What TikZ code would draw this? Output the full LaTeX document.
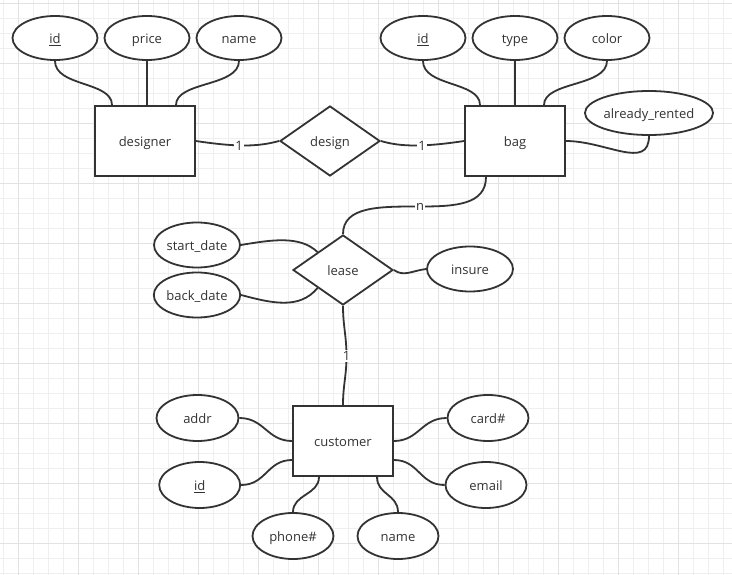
\documentclass[tikz,border=0pt]{standalone}
\usepackage{fontspec}
\setmainfont{Open Sans}
\usetikzlibrary{shapes.geometric}
\definecolor{ink}{HTML}{333333}
\definecolor{gridminor}{HTML}{EFEFEF}
\definecolor{gridmajor}{HTML}{E2E2E2}
\begin{document}
\begin{tikzpicture}[x=1pt,y=-1pt,
  txt/.style={font=\fontsize{13}{15}\selectfont,text=ink},
  shapetxt/.style={txt,text height=11.5pt,text depth=0pt},
  attr/.style={ellipse,draw=ink,line width=1.8pt,fill=white,inner sep=0pt,
    minimum width=85pt,minimum height=44pt,shapetxt},
  entity/.style={rectangle,draw=ink,line width=1.8pt,fill=white,inner sep=0pt,
    minimum width=100pt,minimum height=70pt,shapetxt},
  rel/.style={diamond,draw=ink,line width=1.8pt,fill=white,inner sep=0pt,
    minimum width=100pt,minimum height=70pt,shapetxt},
  link/.style={draw=ink,line width=1.8pt},
  cardlabel/.style={fill=white,inner sep=1pt,txt}]
\useasboundingbox (0,0) rectangle (732,575);
\fill[white] (0,0) rectangle (732,575);
% grid
\foreach \i in {0,...,48} \draw[gridminor,line width=1pt] ({3.3+15*\i},0) -- ({3.3+15*\i},575);
\foreach \i in {0,...,38} \draw[gridminor,line width=1pt] (0,{3.3+15*\i}) -- (732,{3.3+15*\i});
\foreach \i in {0,...,11} \draw[gridmajor,line width=1pt] ({18.3+60*\i},0) -- ({18.3+60*\i},575);
\foreach \i in {0,...,9} \draw[gridmajor,line width=1pt] (0,{3.3+60*\i}) -- (732,{3.3+60*\i});

% entities and relationships
\node[entity] (designer) at (145,141) {designer};
\node[rel] (design) at (330,141) {design};
\node[entity] (bag) at (515,141) {bag};
\node[rel] (lease) at (343,270) {lease};
\node[entity] (customer) at (343,441) {customer};

% designer attributes
\node[attr] (did) at (55,38) {\underline{id}};
\node[attr] (dprice) at (147,38) {price};
\node[attr] (dname) at (239,38) {name};
% bag attributes
\node[attr] (bid) at (423,38) {\underline{id}};
\node[attr] (btype) at (515,38) {type};
\node[attr] (bcolor) at (607,38) {color};
\node[attr,minimum width=126pt] (brented) at (649,113) {already\_rented};
% lease attributes
\node[attr,minimum width=86pt,minimum height=45pt] (start) at (197,245) {start\_date};
\node[attr,minimum width=86pt,minimum height=45pt] (back) at (197,295) {back\_date};
\node[attr,minimum width=86pt,minimum height=45pt] (insure) at (470,269) {insure};
% customer attributes
\node[attr,minimum width=82pt,minimum height=46pt] (caddr) at (197.5,418) {addr};
\node[attr,minimum width=81pt,minimum height=46pt] (cid) at (199.7,485) {\underline{id}};
\node[attr,minimum width=81pt,minimum height=46pt] (cphone) at (293,536) {phone\#};
\node[attr,minimum width=81pt,minimum height=46pt] (cname) at (398,536) {name};
\node[attr,minimum width=81pt,minimum height=46pt] (ccard) at (488,418) {card\#};
\node[attr,minimum width=81pt,minimum height=46pt] (cemail) at (486,485) {email};

\coordinate (nmid) at (420,206.5);
\coordinate (onemid) at (346.5,356);

% designer links
\draw[link] (did.south) .. controls +(0,26) and +(0,-24) .. ([xshift=-33pt]designer.north);
\draw[link] (dprice.south) -- (dprice.south |- designer.north);
\draw[link] (dname.south) .. controls +(0,26) and +(0,-24) .. ([xshift=31pt]designer.north);
% bag links
\draw[link] (bid.south) .. controls +(0,26) and +(0,-24) .. ([xshift=-35pt]bag.north);
\draw[link] (btype.south) -- (btype.south |- bag.north);
\draw[link] (bcolor.south) .. controls +(0,26) and +(0,-24) .. ([xshift=29pt]bag.north);
\draw[link] (bag.east) .. controls +(40,0) and +(0,35) .. (brented.south);
% relationships
\draw[link] (designer.east) .. controls +(40,6) and +(-22,6) .. (design.west);
\draw[link] (design.east) .. controls +(20,6) and +(-40,6) .. (bag.west);
\draw[link] ([xshift=-29pt]bag.south) .. controls +(0,28) and +(35,0) .. (nmid)
  .. controls +(-40,0) and +(0,-28) .. (lease.north);
\draw[link] (lease.south) .. controls +(0,20) and +(0,-20) .. (onemid)
  .. controls +(0,20) and +(0,-20) .. (customer.north);
% lease links
\draw[link] (start.east) .. controls +(30,-5) and +(-18,-17) .. (lease.north west);
\draw[link] (back.east) .. controls +(30,8) and +(-18,22) .. (lease.south west);
\draw[link] (lease.east) .. controls +(10,7) and +(-15,2) .. (insure.west);
% customer links
\draw[link] (caddr.east) .. controls +(25,0) and +(-25,0) .. (customer.west);
\draw[link] (cid.east) .. controls +(25,0) and +(-25,0) .. ([yshift=-19pt]customer.west);
\draw[link] (cphone.north) .. controls +(0,-18) and +(0,18) .. ([xshift=-24pt]customer.south);
\draw[link] (cname.north) .. controls +(0,-18) and +(0,18) .. ([xshift=34pt]customer.south);
\draw[link] (ccard.west) .. controls +(-25,0) and +(25,0) .. (customer.east);
\draw[link] (cemail.west) .. controls +(-25,0) and +(25,0) .. ([yshift=-19pt]customer.east);

% cardinality labels
\node[cardlabel] (l1) at (239,146) {1};
\node[cardlabel] (l2) at (422,146) {1};
\node[cardlabel] (ln) at (nmid) {n};
\node[cardlabel] (l3) at (onemid) {1};
\end{tikzpicture}
\end{document}
